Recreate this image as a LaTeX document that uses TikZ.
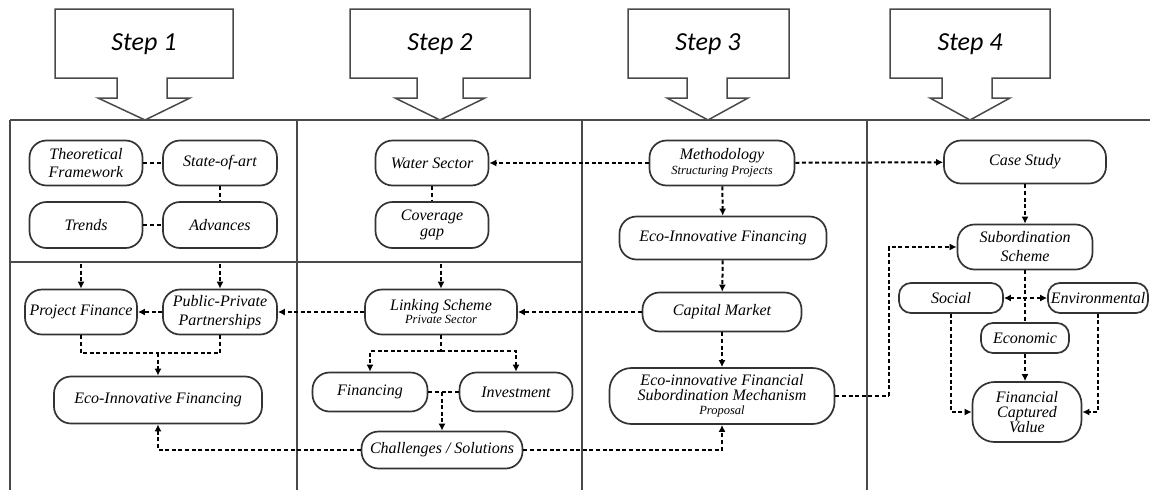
\documentclass[tikz,border=0pt]{standalone}
\usepackage{fontspec}
\setmainfont{Liberation Serif}
\newfontfamily\nodefont{Liberation Serif}
\newfontfamily\stepfont{Carlito}
\usetikzlibrary{arrows.meta}

\definecolor{framegray}{HTML}{4A4A4A}
\definecolor{boxgray}{HTML}{333333}

\tikzset{
  pill/.style={draw=boxgray, line width=1.7pt, rounded corners=17pt, inner sep=0pt,
    align=center, font=\nodefont\itshape\fontsize{16}{19}\selectfont},
  smallpill/.style={pill, rounded corners=12pt},
  conn/.style={draw=black, line width=2pt, dash pattern=on 4pt off 2.6pt},
  arr/.style={conn, -{Latex[length=7pt,width=7pt]}},
  barr/.style={conn, {Latex[length=7pt,width=7pt]}-{Latex[length=7pt,width=7pt]}},
  framel/.style={draw=framegray, line width=1.5pt},
  callout/.style={draw=framegray, line width=1.5pt, fill=white},
  steplabel/.style={font=\stepfont\itshape\fontsize{26}{30}\selectfont}
}
\newcommand{\subline}[1]{{\fontsize{12.5}{14}\selectfont #1}}

\begin{document}
\begin{tikzpicture}[x=1pt,y=-1pt]
\useasboundingbox (0,0) rectangle (1150,490);

% ---- frame of the four stages ----
\draw[framel] (10,120) -- (1150,120);
\draw[framel] (10,262) -- (582,262);
\foreach \xx in {10,297,582,867} \draw[framel] (\xx,120) -- (\xx,490);

% ---- step callouts ----
\foreach \xa/\xb/\sa/\sb/\ha/\hb/\cx in {
    55/233/117/167/98/190/145,
    350/530/417/463/395/485/440,
    628/789/687/727/667/748/708,
    890/1050/942/992/930/1010/970}{
  \draw[callout] (\xa,9) -- (\xb,9) -- (\xb,78) -- (\sb,78) -- (\sb,98) -- (\hb,98)
     -- (\cx,120) -- (\ha,98) -- (\sa,98) -- (\sa,78) -- (\xa,78) -- cycle;
}
\node[steplabel] (s1) at (144,44) {Step 1};
\node[steplabel] (s2) at (440,44) {Step 2};
\node[steplabel] (s3) at (708,44) {Step 3};
\node[steplabel] (s4) at (970,44) {Step 4};

% ---- stage 1 ----
\node[pill, minimum width=113pt, minimum height=45pt] (th) at (86,163) {Theoretical\\[-1pt]Framework};
\node[pill, minimum width=114pt, minimum height=45pt] (st) at (220,163) {State-of-art};
\node[pill, minimum width=113pt, minimum height=46pt] (tr) at (86,225) {Trends};
\node[pill, minimum width=114pt, minimum height=46pt] (ad) at (220,225) {Advances};
\node[pill, minimum width=112pt, minimum height=45pt] (pf) at (81,312) {Project Finance};
\node[pill, minimum width=114pt, minimum height=45pt] (ppp) at (220,312) {Public-Private\\[0pt]Partnerships};
\node[pill, minimum width=208pt, minimum height=47pt] (eif1) at (158,400) {Eco-Innovative Financing};

% ---- stage 2 ----
\node[pill, minimum width=113pt, minimum height=45pt] (ws) at (432,163) {Water Sector};
\node[pill, minimum width=113pt, minimum height=46pt] (cg) at (432,225) {Coverage\\[-3pt]gap};
\node[pill, minimum width=152pt, minimum height=45pt] (ls) at (441,312) {Linking Scheme\\[-6pt]\subline{Private Sector}};
\node[pill, minimum width=115pt, minimum height=39pt] (fin) at (370,392) {Financing};
\node[pill, minimum width=113pt, minimum height=39pt] (inv) at (516,392) {Investment};
\node[pill, minimum width=161pt, minimum height=37pt] (cs) at (442,450) {Challenges / Solutions};

% ---- stage 3 ----
\node[pill, minimum width=145pt, minimum height=45pt] (meth) at (722,163) {Methodology\\[-4pt]\subline{Structuring Projects}};
\node[pill, minimum width=207pt, minimum height=43pt] (eif3) at (723,238) {Eco-Innovative Financing};
\node[pill, minimum width=159pt, minimum height=39pt] (cm) at (722,312) {Capital Market};
\node[pill, rounded corners=22pt, minimum width=225pt, minimum height=56pt] (prop) at (722,396) {Eco-innovative Financial\\[-4pt]Subordination Mechanism\\[-5pt]\subline{Proposal}};

% ---- stage 4 ----
\node[pill, minimum width=162pt, minimum height=43pt] (case) at (1025,162) {Case Study};
\node[pill, minimum width=135pt, minimum height=45pt] (subs) at (1025,247) {Subordination\\[0pt]Scheme};
\node[smallpill, minimum width=104pt, minimum height=30pt] (soc) at (951,298) {Social};
\node[smallpill, minimum width=100pt, minimum height=30pt] (env) at (1098,298) {Environmental};
\node[smallpill, minimum width=88pt, minimum height=30pt] (eco) at (1025,338) {Economic};
\node[pill, rounded corners=22pt, minimum width=109pt, minimum height=60pt] (fcv) at (1027,412) {Financial\\[-4pt]Captured\\[-4pt]Value};

% ---- connection points ----
\coordinate (d1) at (81,264);
\coordinate (d2) at (220,264);
\coordinate (d3) at (441,264);
\coordinate (m1) at (158,353);
\coordinate (lsb) at (441,351);
\coordinate (fi) at (442,392);
\coordinate (pr) at (889,396);

% ---- stage 1 links ----
\draw[conn] (th) -- (st);
\draw[conn] (st) -- (ad);
\draw[conn] (tr) -- (ad);
\draw[arr] (d1) -- (pf);
\draw[arr] (d2) -- (ppp);
\draw[arr] (ppp) -- (pf);
\draw[conn] (pf.south) |- (m1);
\draw[conn] (ppp.south) |- (m1);
\draw[arr] (m1) -- (eif1);

% ---- stage 2 links ----
\draw[conn] (ws) -- (cg);
\draw[arr] (d3) -- (ls);
\draw[arr] (ls) -- (ppp);
\draw[conn] (ls.south) -- (lsb);
\draw[arr] (lsb) -| (fin.north);
\draw[arr] (lsb) -| (inv.north);
\draw[conn] (fin) -- (inv);
\draw[arr] (fi) -- (cs);
\draw[arr] (cs.west) -| (eif1.south);
\draw[arr] (cs.east) -| (prop.south);

% ---- stage 3 links ----
\draw[arr] (meth) -- (ws);
\draw[arr] (meth) -- (case);
\draw[arr] (meth) -- (eif3);
\draw[arr] (eif3) -- (cm);
\draw[arr] (cm) -- (ls);
\draw[arr] (cm) -- (prop);
\draw[conn] (prop.east) -- (pr);
\draw[arr] (pr) |- (subs.west);

% ---- stage 4 links ----
\draw[arr] (case) -- (subs);
\draw[conn] (subs) -- (eco);
\draw[barr] (soc) -- (env);
\draw[arr] (eco.south) -- (eco.south |- fcv.north);
\draw[arr] (soc.south) |- (fcv.west);
\draw[arr] (env.south) |- (fcv.east);
\end{tikzpicture}
\end{document}
